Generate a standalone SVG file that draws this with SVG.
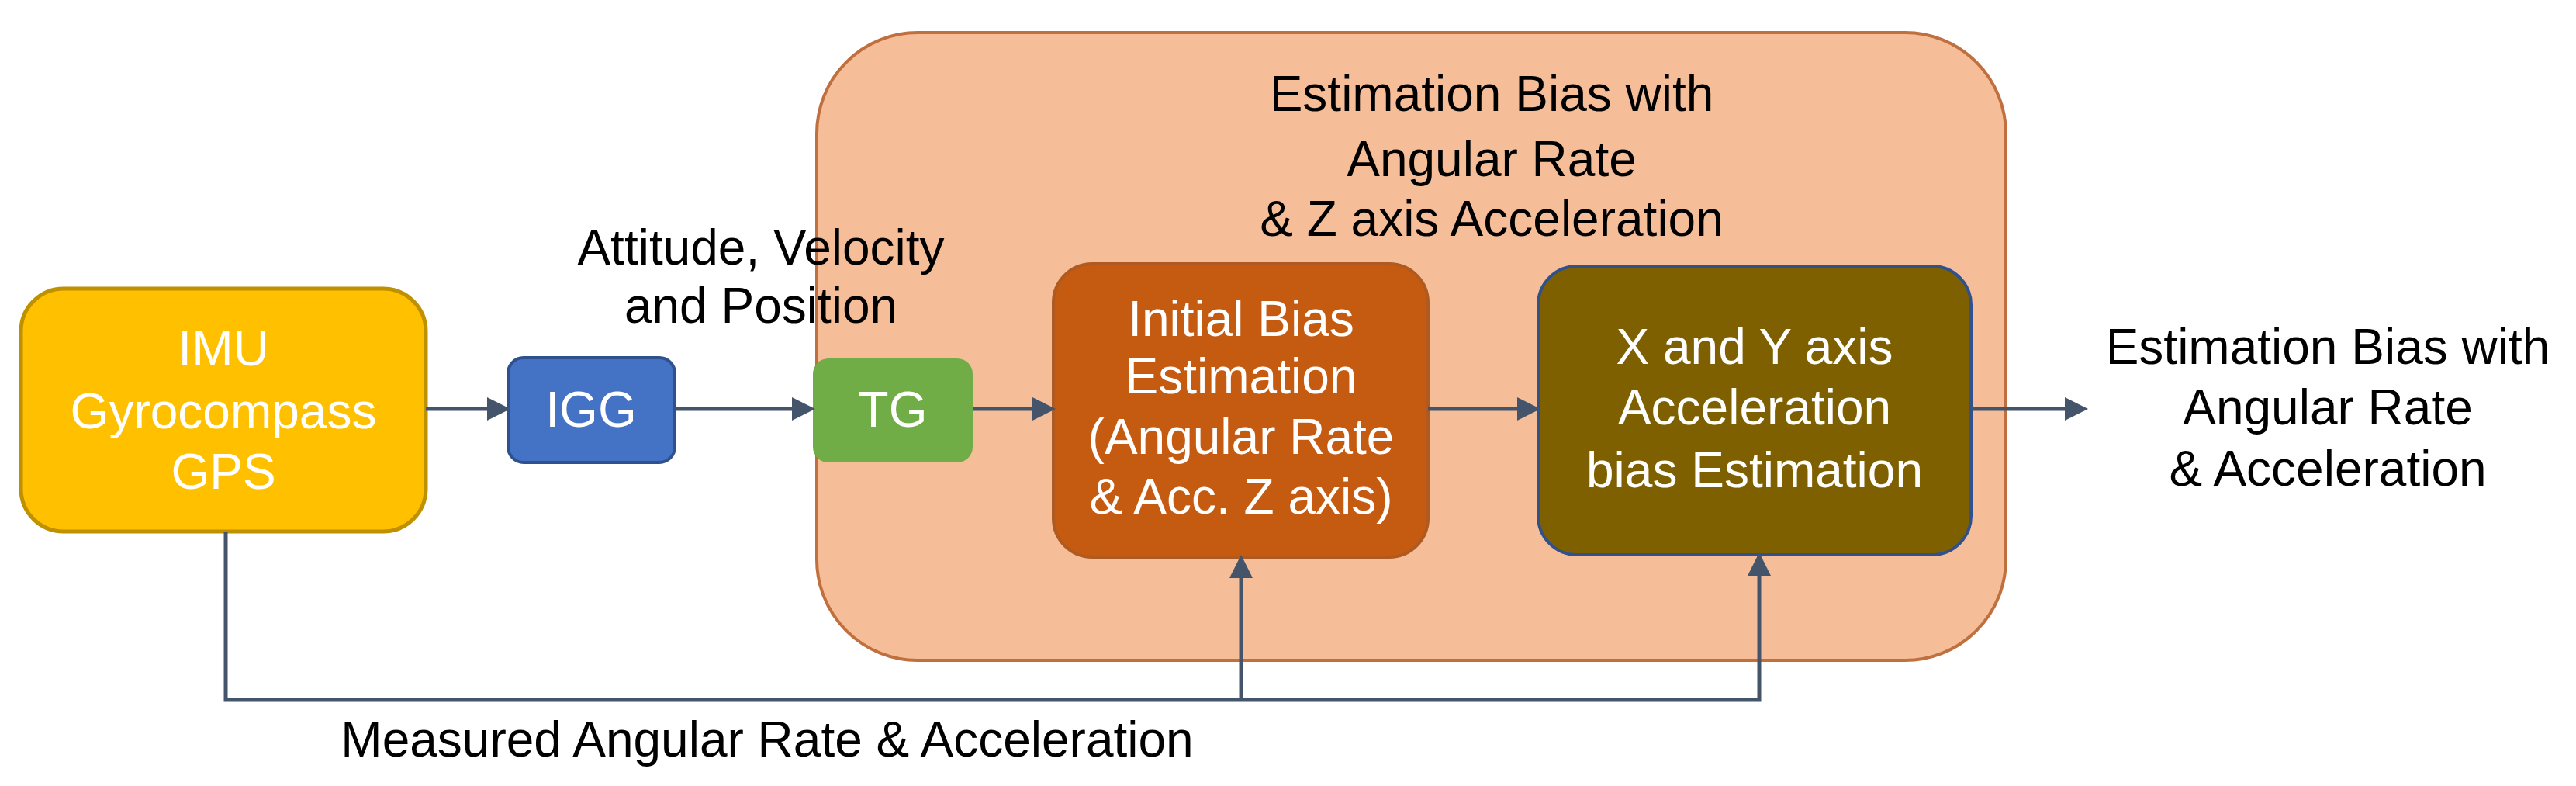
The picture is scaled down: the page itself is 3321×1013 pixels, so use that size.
<svg xmlns="http://www.w3.org/2000/svg" width="3321" height="1013" viewBox="0 0 3321 1013">
<style>
text{font-family:"Liberation Sans",Arial,sans-serif;font-size:64px;text-anchor:middle}
.w{fill:#fff}.b{fill:#000}
.c{stroke:#44546A;stroke-width:5;fill:none}
</style>
<defs><marker id="a" markerWidth="6" markerHeight="6" refX="5" refY="3" orient="auto" markerUnits="strokeWidth"><path d="M0,0L6,3L0,6z" fill="#44546A"/></marker></defs>
<rect width="3321" height="1013" fill="#fff"/>
<g id="container"><rect x="1053" y="42" width="1533" height="809" rx="130" fill="#F5BE99" stroke="#C0703E" stroke-width="4"/>
<text class="b" x="1923" y="143">Estimation Bias with</text><text class="b" x="1923" y="227">Angular Rate</text><text class="b" x="1923" y="304">&amp; Z axis Acceleration</text></g>
<g id="imu"><rect x="27" y="372" width="522" height="313" rx="55" fill="#FFC000" stroke="#BF9000" stroke-width="5"/>
<text class="w" x="288" y="471">IMU</text><text class="w" x="288" y="552">Gyrocompass</text><text class="w" x="288" y="630">GPS</text></g>
<g id="igg"><rect x="655" y="461" width="215" height="135" rx="20" fill="#4472C4" stroke="#2F528F" stroke-width="4"/><text class="w" x="762" y="550">IGG</text></g>
<g id="tg"><rect x="1048" y="462" width="206" height="134" rx="20" fill="#70AD47"/><text class="w" x="1151" y="550">TG</text></g>
<g id="init"><rect x="1358" y="340" width="483" height="378" rx="50" fill="#C55A11" stroke="#AE5A21" stroke-width="4"/>
<text class="w" x="1600" y="433">Initial Bias</text><text class="w" x="1600" y="507">Estimation</text><text class="w" x="1600" y="585">(Angular Rate</text><text class="w" x="1600" y="662">&amp; Acc. Z axis)</text></g>
<g id="xy"><rect x="1983" y="343" width="558" height="372" rx="50" fill="#7F6000" stroke="#2F528F" stroke-width="4"/>
<text class="w" x="2262" y="469">X and Y axis</text><text class="w" x="2262" y="547">Acceleration</text><text class="w" x="2262" y="628">bias Estimation</text></g>
<g id="labels"><text class="b" x="981" y="341">Attitude, Velocity</text><text class="b" x="981" y="416">and Position</text>
<text class="b" x="3001" y="469">Estimation Bias with</text><text class="b" x="3001" y="547">Angular Rate</text><text class="b" x="3001" y="626">&amp; Acceleration</text>
<text class="b" x="989" y="975">Measured Angular Rate &amp; Acceleration</text></g>
<g id="connectors">
<path class="c" d="M549,527H653" marker-end="url(#a)"/>
<path class="c" d="M870,527H1046" marker-end="url(#a)"/>
<path class="c" d="M1254,527H1356" marker-end="url(#a)"/>
<path class="c" d="M1841,527H1981" marker-end="url(#a)"/>
<path class="c" d="M2541,527H2687" marker-end="url(#a)"/>
<path class="c" d="M291,685V902H2268V717" marker-end="url(#a)"/>
<path class="c" d="M1600,902V720" marker-end="url(#a)"/>
</g>
</svg>
